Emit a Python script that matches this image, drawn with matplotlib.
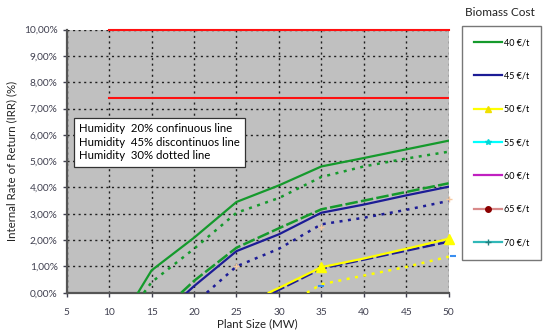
import matplotlib
matplotlib.use("Agg")
import matplotlib.pyplot as plt
from matplotlib.lines import Line2D
from matplotlib.ticker import FuncFormatter

plt.rcParams['font.family'] = ['Lato', 'DejaVu Sans']

# data (IRR in %)
x_ticks = [5, 10, 15, 20, 25, 30, 35, 40, 45, 50]
y_ticks = [0, 1, 2, 3, 4, 5, 6, 7, 8, 9, 10]

target_x = [10, 50]
target_high = [10.0, 10.0]
target_low = [7.41, 7.41]

g40_solid_x = [13.4, 15, 20, 25, 30, 35, 40, 45, 50]
g40_solid_y = [0, 0.85, 2.09, 3.45, 4.08, 4.8, 5.12, 5.45, 5.78]
g40_dot_x = [14.1, 15, 20, 25, 30, 35, 40, 45, 50]
g40_dot_y = [0, 0.4, 1.67, 3.04, 3.6, 4.4, 4.8, 5.1, 5.36]
g40_dash_x = [18.5, 20, 25, 30, 35, 40, 45, 50]
g40_dash_y = [0, 0.45, 1.71, 2.45, 3.17, 3.5, 3.83, 4.16]

b45_solid_x = [19.15, 20, 25, 30, 35, 40, 45, 50]
b45_solid_y = [0, 0.25, 1.58, 2.22, 3.04, 3.35, 3.7, 4.03]
b45_dot_x = [21.5, 25, 30, 35, 40, 45, 50]
b45_dot_y = [0, 1.0, 1.67, 2.6, 2.85, 3.15, 3.49]
b45_dash_x = [29.3, 35, 40, 45, 50]
b45_dash_y = [0, 0.92, 1.26, 1.6, 1.94]

y50_solid_x = [28.8, 30, 35, 40, 45, 50]
y50_solid_y = [0, 0.18, 0.97, 1.3, 1.67, 2.05]
y50_marker_x = [35, 50]
y50_marker_y = [0.97, 2.05]
y50_dot_x = [33.3, 35, 40, 45, 50]
y50_dot_y = [0, 0.32, 0.65, 0.98, 1.37]

stray_plus_x = [25, 35, 50]
stray_plus_y = [1.0, 2.5, 3.55]
stray_dash_x = [35, 50.5]
stray_dash_y = [0.25, 1.4]

costs = ['40 €/t', '45 €/t', '50 €/t', '55 €/t', '60 €/t', '65 €/t', '70 €/t']
cost_colors = ['#159a2c', '#1c1c96', '#ffff00', '#00ffff', '#c020c0', '#d98a8a', '#30b8b8']
cost_markers = ['', '', '^', '*', '', 'o', '+']
cost_marker_colors = ['#159a2c', '#1c1c96', '#f0e000', '#00d8d8', '#c020c0', '#8b0000', '#208080']

fig = plt.figure(figsize=(5.5, 3.32), dpi=100)
ax = fig.add_axes([0.1213, 0.1184, 0.6945, 0.7922])
ax.set_facecolor('#c0c0c0')

green, blue, yellow = cost_colors[0], cost_colors[1], cost_colors[2]
dot = (0, (1.2, 2.2))
dash = (0, (5, 1.3))

ax.plot(target_x, target_high, color='#ff1010', lw=1.5, clip_on=False, zorder=4)
ax.plot(target_x, target_low, color='#ff1010', lw=1.5, zorder=4)

ax.plot(g40_solid_x, g40_solid_y, color=green, lw=1.6, zorder=3)
ax.plot(g40_dot_x, g40_dot_y, color=green, lw=1.8, ls=dot, zorder=3)
ax.plot(g40_dash_x, g40_dash_y, color=green, lw=1.8, ls=dash, zorder=3)

ax.plot(b45_solid_x, b45_solid_y, color=blue, lw=1.6, zorder=3)
ax.plot(b45_dot_x, b45_dot_y, color=blue, lw=1.8, ls=dot, zorder=3)
ax.plot(b45_dash_x, b45_dash_y, color=blue, lw=1.8, ls=dash, zorder=3)

ax.plot(y50_solid_x, y50_solid_y, color=yellow, lw=1.6, zorder=3)
ax.plot(y50_marker_x, y50_marker_y, ls='none', marker='^', ms=7, color=yellow,
        clip_on=False, zorder=5)
ax.plot(y50_dot_x, y50_dot_y, color=yellow, lw=1.8, ls=dot, zorder=3)

ax.plot(stray_plus_x, stray_plus_y, ls='none', marker='+', ms=5, color='#f5c8a0',
        clip_on=False, zorder=4)
ax.plot(stray_dash_x, stray_dash_y, ls='none', marker='_', ms=5, mew=1.5,
        color='#3a8ef0', clip_on=False, zorder=4)

ax.set_xlim(5, 50)
ax.set_ylim(0, 10)
ax.set_xticks(x_ticks)
ax.set_yticks(y_ticks)
ax.yaxis.set_major_formatter(FuncFormatter(lambda v, p: f"{v:.2f}%".replace('.', ',')))
ax.grid(True, color='#202020', ls=(0, (1.5, 2.5)), lw=1.0)
ax.set_axisbelow(True)
for s in ['top', 'right']:
    ax.spines[s].set_visible(False)
for s in ['left', 'bottom']:
    ax.spines[s].set_color('#555555')
    ax.spines[s].set_linewidth(1.6)
ax.tick_params(labelsize=7.3, colors='#404050', length=3, width=1, direction='out')
ax.tick_params(axis='x', pad=8)
ax.set_xlabel('Plant Size (MW)', fontsize=8.3, labelpad=1, color='#222222')
ax.set_ylabel('Internal Rate of Return (IRR) (%)', fontsize=8.3, labelpad=5, color='#222222')

ax.text(6.45, 5.72,
        "Humidity  20% confinuous line\nHumidity  45% discontinuos line\nHumidity  30% dotted line",
        fontsize=8.2, va='center', ha='left', linespacing=1.3, zorder=6,
        bbox=dict(boxstyle='square,pad=0.45', fc='white', ec='#333333', lw=0.9))

handles = [Line2D([], [], color=c, lw=1.6, marker=m, ms=4, mfc=mc, mec=mc)
           for c, m, mc in zip(cost_colors, cost_markers, cost_marker_colors)]
leg = fig.legend(handles, costs, loc='upper left', bbox_to_anchor=(0.84, 0.922),
                 fontsize=6.5, frameon=True, fancybox=False, labelspacing=2.7,
                 handlelength=3.1, handletextpad=0.15, borderpad=1.35,
                 borderaxespad=0, markerscale=1)
leg.get_frame().set_edgecolor('#555555')
leg.get_frame().set_linewidth(1.0)
fig.text(0.908, 0.962, 'Biomass Cost', fontsize=8.5, ha='center', va='center', color='#222222')

fig.savefig('out.png', dpi=100)
